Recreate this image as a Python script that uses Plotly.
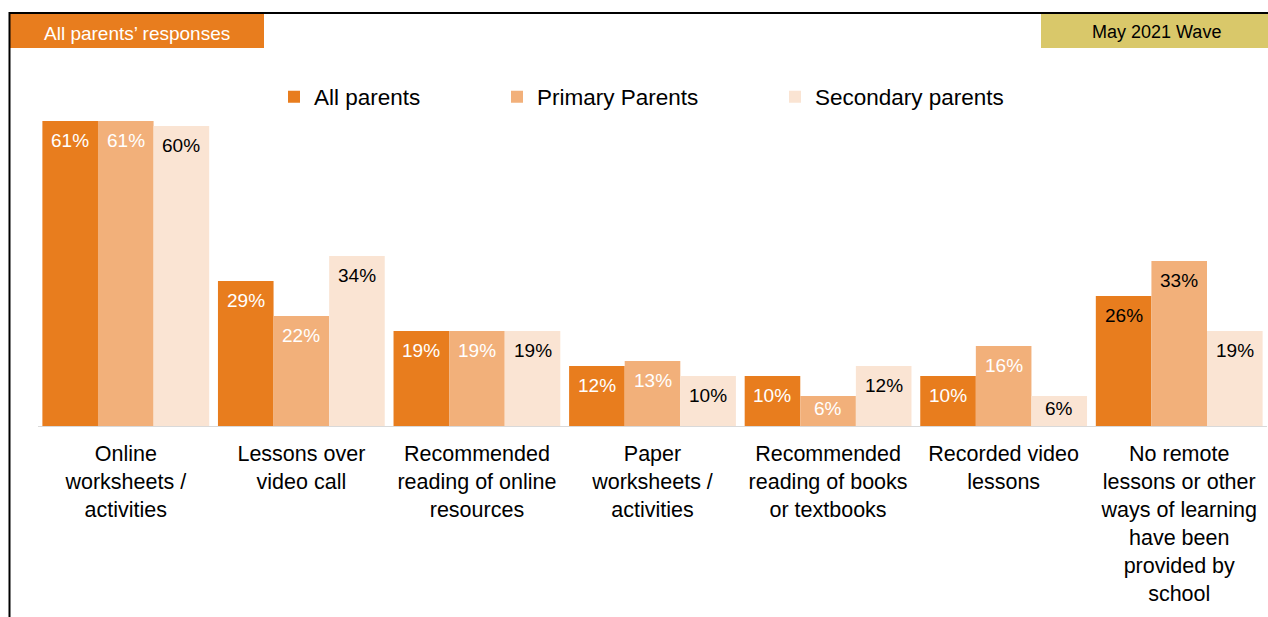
import plotly.graph_objects as go

# Categories and survey values (% of parents)
categories = [
    "Online<br>worksheets /<br>activities",
    "Lessons over<br>video call",
    "Recommended<br>reading of online<br>resources",
    "Paper<br>worksheets /<br>activities",
    "Recommended<br>reading of books<br>or textbooks",
    "Recorded video<br>lessons",
    "No remote<br>lessons or other<br>ways of learning<br>have been<br>provided by<br>school",
]
series_names = ["All parents", "Primary Parents", "Secondary parents"]
all_parents = [61, 29, 19, 12, 10, 10, 26]
primary_parents = [61, 22, 19, 13, 6, 16, 33]
secondary_parents = [60, 34, 19, 10, 12, 6, 19]

header_left = "All parents’ responses"
header_right = "May 2021 Wave"

# Styling
FONT = "Arial, Liberation Sans, sans-serif"
C_ALL = "#E87D1E"
C_PRI = "#F2B07A"
C_SEC = "#FAE4D3"
C_GOLD = "#D9C86A"
label_colours = [
    ["white"] * 6 + ["black"],
    ["white"] * 6 + ["black"],
    ["black"] * 7,
]

W, H = 1268, 617
ML, MR, MT, MB = 38, 1, 76, 191
PW, PH = W - ML - MR, H - MT - MB
YMAX = 70
BARGAP = 0.05


def px_x(px):
    return (px - ML) / PW


def px_y(py):
    return (H - MB - py) / PH


fig = go.Figure()
values = [all_parents, primary_parents, secondary_parents]
colours = [C_ALL, C_PRI, C_SEC]
legends = ["legend", "legend2", "legend3"]
xs = list(range(len(categories)))
for name, vals, col, lg in zip(series_names, values, colours, legends):
    fig.add_trace(go.Bar(
        x=xs, y=vals, name=name, legend=lg,
        marker=dict(color=col, line=dict(width=0)),
        hoverinfo="skip",
    ))

# Value labels inside the top of each bar
bw = (1 - BARGAP) / 3
px_per_unit = PH / YMAX
for k, (vals, cols) in enumerate(zip(values, label_colours)):
    off = (k - 1) * bw
    for i, v in enumerate(vals):
        h = v * px_per_unit
        fig.add_annotation(
            x=i + off, y=v, xref="x", yref="y",
            text=f"{v}%", showarrow=False,
            yshift=-min(19, 0.4 * h), xanchor="center", yanchor="middle",
            font=dict(family=FONT, size=19, color=cols[i]),
        )

# Header boxes and frame
fig.add_shape(type="rect", xref="paper", yref="paper",
              x0=px_x(9), x1=px_x(264), y0=px_y(48), y1=px_y(14),
              fillcolor=C_ALL, line=dict(width=0), layer="below")
fig.add_shape(type="rect", xref="paper", yref="paper",
              x0=px_x(1041), x1=px_x(1268), y0=px_y(48), y1=px_y(14),
              fillcolor=C_GOLD, line=dict(width=0), layer="below")
fig.add_shape(type="line", xref="paper", yref="paper",
              x0=px_x(9), x1=px_x(1270), y0=px_y(13), y1=px_y(13),
              line=dict(color="black", width=2))
fig.add_shape(type="line", xref="paper", yref="paper",
              x0=px_x(9.5), x1=px_x(9.5), y0=px_y(12), y1=px_y(620),
              line=dict(color="black", width=2))
fig.add_annotation(xref="paper", yref="paper", x=px_x(137), y=px_y(33),
                   xanchor="center", yanchor="middle",
                   text=header_left, showarrow=False,
                   font=dict(family=FONT, size=19, color="white"))
fig.add_annotation(xref="paper", yref="paper", x=px_x(1156), y=px_y(32),
                   xanchor="center", yanchor="middle",
                   text=header_right, showarrow=False,
                   font=dict(family=FONT, size=18, color="black"))

legend_style = dict(orientation="h", yanchor="middle", y=px_y(97),
                    xanchor="left", bgcolor="rgba(0,0,0,0)",
                    font=dict(family=FONT, size=22.5, color="black"),
                    itemwidth=30)
fig.update_layout(
    width=W, height=H,
    margin=dict(l=ML, r=MR, t=MT, b=MB),
    paper_bgcolor="white", plot_bgcolor="white",
    barmode="group", bargap=BARGAP, bargroupgap=0,
    showlegend=True,
    legend=dict(legend_style, x=px_x(274)),
    legend2=dict(legend_style, x=px_x(497)),
    legend3=dict(legend_style, x=px_x(775)),
    xaxis=dict(
        tickmode="array", tickvals=xs, ticktext=categories,
        range=[-0.5, len(categories) - 0.5],
        showline=True, linecolor="#D9D9D9", linewidth=1,
        showgrid=False, zeroline=False, ticks="",
        ticklabelstandoff=8,
        tickfont=dict(family=FONT, size=21.5, color="black"),
    ),
    yaxis=dict(range=[0, YMAX], visible=False, showgrid=False),
    font=dict(family=FONT),
)

fig.write_html("out.html")
